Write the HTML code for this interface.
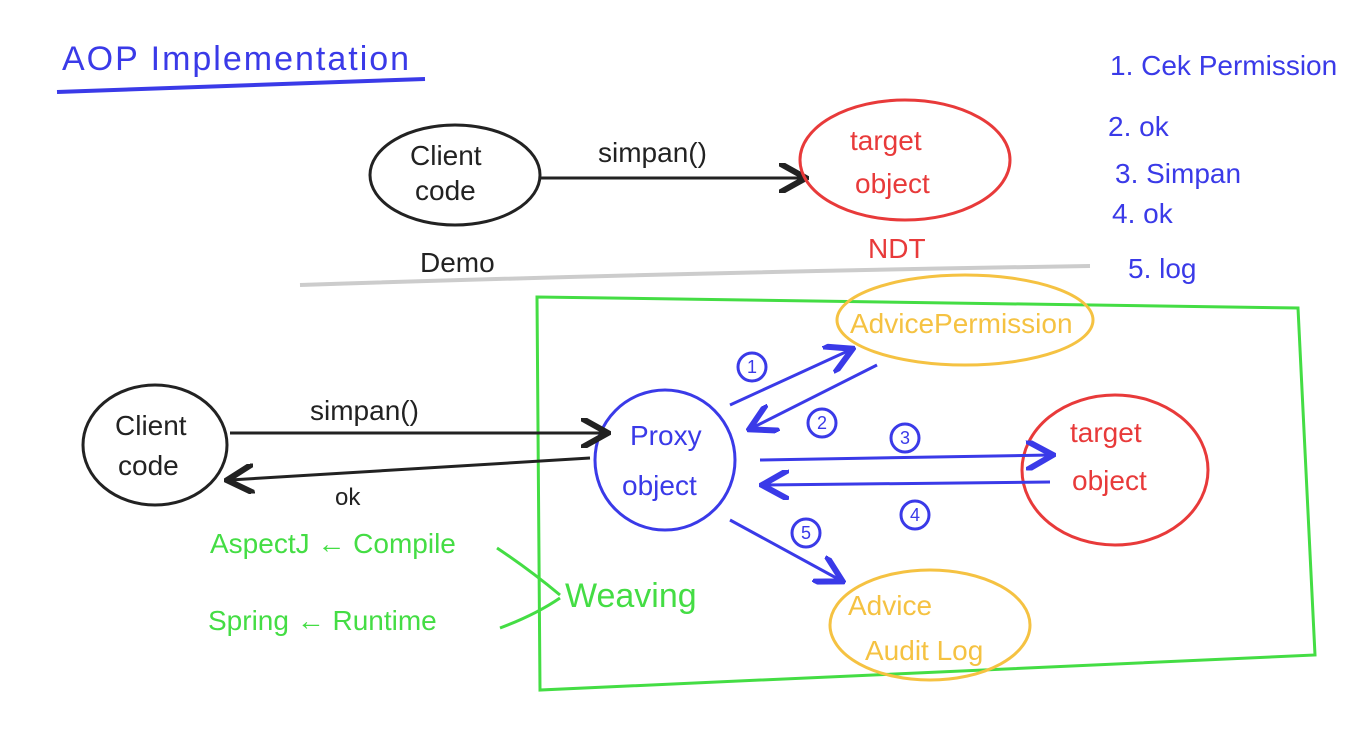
<!DOCTYPE html>
<html><head><meta charset="utf-8"><style>
html,body{margin:0;padding:0;background:#fff;}
svg{display:block;}
text{font-family:"Liberation Sans",sans-serif;}
</style></head><body>
<svg width="1362" height="746" viewBox="0 0 1362 746" xmlns="http://www.w3.org/2000/svg">
<defs>
<marker id="ak" markerWidth="10" markerHeight="10" refX="8" refY="5" orient="auto"><path d="M0,0 L9,5 L0,10" fill="none" stroke="#222" stroke-width="2"/></marker>
<marker id="ab" markerWidth="10" markerHeight="10" refX="8" refY="5" orient="auto"><path d="M0,0 L9,5 L0,10" fill="none" stroke="#3a3ae8" stroke-width="2"/></marker>
<marker id="ag" markerWidth="10" markerHeight="10" refX="8" refY="5" orient="auto"><path d="M0,0 L9,5 L0,10" fill="none" stroke="#3c3" stroke-width="2"/></marker>
</defs>
<!-- title -->
<text x="62" y="70" font-size="34" fill="#3a3ae8" letter-spacing="2">AOP  Implementation</text>
<path d="M57,92 Q240,86 425,79" stroke="#3a3ae8" stroke-width="4" fill="none"/>
<!-- list -->
<g fill="#3a3ae8" font-size="28">
<text x="1110" y="75">1. Cek Permission</text>
<text x="1108" y="136">2. ok</text>
<text x="1115" y="183">3.  Simpan</text>
<text x="1112" y="223">4. ok</text>
<text x="1128" y="278">5. log</text>
</g>
<!-- top -->
<ellipse cx="455" cy="175" rx="85" ry="50" fill="none" stroke="#222" stroke-width="3"/>
<text x="410" y="165" font-size="28" fill="#222">Client</text>
<text x="415" y="200" font-size="28" fill="#222">code</text>
<line x1="540" y1="178" x2="803" y2="178" stroke="#222" stroke-width="3" marker-end="url(#ak)"/>
<text x="598" y="162" font-size="28" fill="#222">simpan()</text>
<ellipse cx="905" cy="160" rx="105" ry="60" fill="none" stroke="#e83a3a" stroke-width="3"/>
<text x="850" y="150" font-size="28" fill="#e83a3a">target</text>
<text x="855" y="193" font-size="28" fill="#e83a3a">object</text>
<text x="420" y="272" font-size="28" fill="#222">Demo</text>
<text x="868" y="258" font-size="28" fill="#e83a3a">NDT</text>
<path d="M300,285 Q700,272 1090,266" stroke="#ccc" stroke-width="4" fill="none"/>
<!-- green box -->
<path d="M537,297 L1298,308 L1315,655 L540,690 Z" fill="none" stroke="#44dd44" stroke-width="3"/>
<!-- advice permission -->
<ellipse cx="965" cy="320" rx="128" ry="45" fill="none" stroke="#f5c242" stroke-width="3"/>
<text x="850" y="333" font-size="28" fill="#f5c242">AdvicePermission</text>
<!-- proxy -->
<circle cx="665" cy="460" r="70" fill="none" stroke="#3a3ae8" stroke-width="3"/>
<text x="630" y="445" font-size="28" fill="#3a3ae8">Proxy</text>
<text x="622" y="495" font-size="28" fill="#3a3ae8">object</text>
<!-- target 2 -->
<ellipse cx="1115" cy="470" rx="93" ry="75" fill="none" stroke="#e83a3a" stroke-width="3"/>
<text x="1070" y="442" font-size="28" fill="#e83a3a">target</text>
<text x="1072" y="490" font-size="28" fill="#e83a3a">object</text>
<!-- audit log -->
<ellipse cx="930" cy="625" rx="100" ry="55" fill="none" stroke="#f5c242" stroke-width="3"/>
<text x="848" y="615" font-size="28" fill="#f5c242">Advice</text>
<text x="865" y="660" font-size="28" fill="#f5c242">Audit Log</text>
<!-- client bottom -->
<ellipse cx="155" cy="445" rx="72" ry="60" fill="none" stroke="#222" stroke-width="3"/>
<text x="115" y="435" font-size="28" fill="#222">Client</text>
<text x="118" y="475" font-size="28" fill="#222">code</text>
<line x1="230" y1="433" x2="605" y2="433" stroke="#222" stroke-width="3" marker-end="url(#ak)"/>
<text x="310" y="420" font-size="28" fill="#222">simpan()</text>
<line x1="590" y1="458" x2="230" y2="480" stroke="#222" stroke-width="3" marker-end="url(#ak)"/>
<text x="335" y="505" font-size="24" fill="#222">ok</text>
<!-- blue arrows -->
<g stroke="#3a3ae8" stroke-width="3" fill="none">
<line x1="730" y1="405" x2="850" y2="350" marker-end="url(#ab)"/>
<line x1="877" y1="365" x2="752" y2="428" marker-end="url(#ab)"/>
<line x1="760" y1="460" x2="1050" y2="455" marker-end="url(#ab)"/>
<line x1="1050" y1="482" x2="765" y2="485" marker-end="url(#ab)"/>
<line x1="730" y1="520" x2="840" y2="580" marker-end="url(#ab)"/>
<circle cx="752" cy="367" r="14"/><circle cx="822" cy="423" r="14"/>
<circle cx="905" cy="438" r="14"/><circle cx="915" cy="515" r="14"/>
<circle cx="806" cy="533" r="14"/>
</g>
<g fill="#3a3ae8" font-size="18" text-anchor="middle">
<text x="752" y="373">1</text><text x="822" y="429">2</text><text x="905" y="444">3</text><text x="915" y="521">4</text><text x="806" y="539">5</text>
</g>
<!-- green weaving -->
<g fill="#44dd44" font-size="28">
<text x="210" y="553">AspectJ ← Compile</text>
<text x="208" y="630">Spring  ← Runtime</text>
<text x="565" y="607" font-size="34">Weaving</text>
</g>
<path d="M497,548 Q530,570 560,595 M500,628 Q535,615 560,598" stroke="#44dd44" stroke-width="3" fill="none"/>
</svg>
</body></html>
